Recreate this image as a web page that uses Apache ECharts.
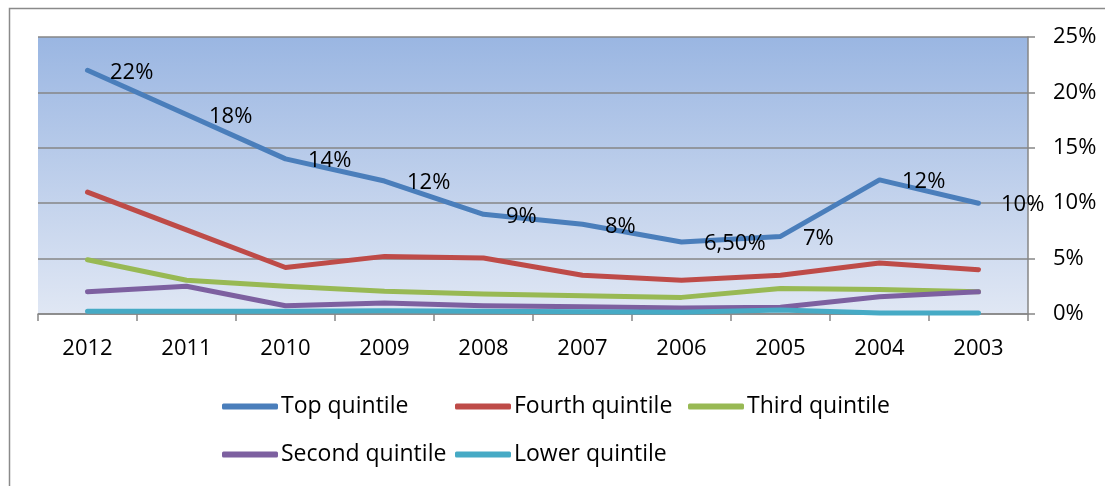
<!DOCTYPE html>
<html>
<head>
<meta charset="utf-8">
<script src="https://cdn.jsdelivr.net/npm/echarts@6/dist/echarts.min.js"></script>
<style>
html,body{margin:0;padding:0;background:#fff;}
#chart{width:1105px;height:486px;}
</style>
</head>
<body>
<div id="chart"></div>
<script>
var categories = ["2012","2011","2010","2009","2008","2007","2006","2005","2004","2003"];
var topQuintile = [22, 18, 14, 12, 9, 8.1, 6.5, 7, 12.1, 10];
var topLabels = ["22%","18%","14%","12%","9%","8%","6,50%","7%","12%","10%"];
var fourthQuintile = [11, 7.6, 4.2, 5.2, 5.05, 3.5, 3.05, 3.5, 4.6, 4.0];
var thirdQuintile = [4.9, 3.05, 2.5, 2.05, 1.8, 1.65, 1.5, 2.3, 2.2, 2.0];
var secondQuintile = [2.0, 2.5, 0.75, 1.0, 0.75, 0.65, 0.55, 0.6, 1.55, 2.0];
var lowerQuintile = [0.25, 0.25, 0.25, 0.3, 0.25, 0.2, 0.15, 0.35, 0.1, 0.1];
var yTicks = [0, 5, 10, 15, 20, 25];

var seriesNames = ["Top quintile","Fourth quintile","Third quintile","Second quintile","Lower quintile"];
var seriesData = [topQuintile, fourthQuintile, thirdQuintile, secondQuintile, lowerQuintile];
var colors = ["#4A7EBB","#BE4B48","#98B954","#7D60A0","#46AAC5"];

var FONT = "'Open Sans', 'Liberation Sans', sans-serif";
var chart = echarts.init(document.getElementById('chart'), null, {renderer:'canvas'});

var series = seriesNames.map(function(name, i){
  var s = {
    name: name,
    type: 'line',
    data: seriesData[i],
    symbol: 'circle',
    symbolSize: 1,
    showSymbol: true,
    itemStyle: {color: colors[i]},
    lineStyle: {color: colors[i], width: 5, cap: 'round', join: 'round'},
    animation: false,
    z: 2 + i
  };
  if (i === 0) {
    s.label = {
      show: true,
      position: 'right',
      distance: 22,
      offset: [0, 2],
      color: '#000',
      fontFamily: FONT,
      fontSize: 22,
      formatter: function(p){ return topLabels[p.dataIndex]; }
    };
    s.z = 10;
  }
  return s;
});

var legendPos = [[222,395],[455,395],[688,395],[222,443],[455,443]];
var legends = seriesNames.map(function(name, i){
  return {
    data: [name],
    left: legendPos[i][0],
    top: legendPos[i][1],
    orient: 'horizontal',
    icon: 'roundRect',
    itemWidth: 56,
    itemHeight: 6,
    itemGap: 0,
    padding: 0,
    selectedMode: false,
    textStyle: {fontFamily: FONT, fontSize: 23, color: '#000', padding: [0,0,0,-2]}
  };
});

var option = {
  animation: false,
  backgroundColor: '#fff',
  color: colors,
  grid: {
    left: 38, right: 77, top: 37, bottom: 172,
    show: true,
    borderWidth: 0,
    backgroundColor: {
      type: 'linear', x: 0, y: 0, x2: 0, y2: 1,
      colorStops: [{offset: 0, color: '#9ab6e2'}, {offset: 1, color: '#e0e7f4'}]
    }
  },
  legend: legends,
  xAxis: {
    type: 'category',
    data: categories,
    boundaryGap: true,
    axisLine: {show: true, lineStyle: {color: '#868686', width: 1.5}},
    axisTick: {show: true, length: 7, lineStyle: {color: '#868686', width: 1.5}},
    axisLabel: {color: '#000', fontFamily: FONT, fontSize: 22, margin: 24},
    splitLine: {show: false}
  },
  yAxis: {
    type: 'value',
    position: 'right',
    min: yTicks[0],
    max: yTicks[yTicks.length-1],
    interval: 5,
    axisLine: {show: true, lineStyle: {color: '#868686', width: 1.5}},
    axisTick: {show: true, length: 7, lineStyle: {color: '#868686', width: 1.5}},
    axisLabel: {color: '#000', fontFamily: FONT, fontSize: 22, margin: 25, formatter: '{value}%'},
    splitLine: {show: true, lineStyle: {color: '#868686', width: 1.5}}
  },
  graphic: [{
    type: 'rect',
    shape: {x: 9.5, y: 8.5, width: 1200, height: 600},
    style: {fill: 'none', stroke: '#8a8a8a', lineWidth: 1.5},
    silent: true,
    z: -1
  }],
  series: series
};
chart.setOption(option);
</script>
</body>
</html>
